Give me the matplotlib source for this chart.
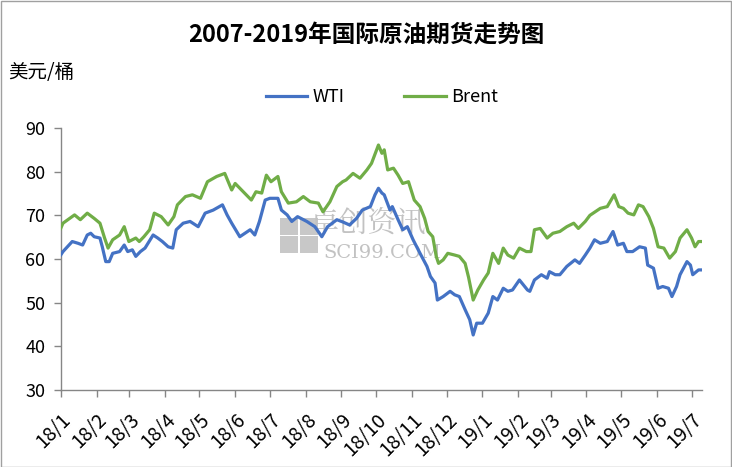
import numpy as np
import pandas as pd
import matplotlib
matplotlib.use("Agg")
import matplotlib.pyplot as plt
import matplotlib.dates as mdates
from matplotlib.ticker import FuncFormatter
from matplotlib.patches import Rectangle

plt.rcParams['font.family'] = ['Noto Sans CJK SC', 'DejaVu Sans']

### Data (USD/bbl)
wti_dates = ["2018-01-01", "2018-01-03", "2018-01-11", "2018-01-16", "2018-01-20", "2018-01-24",
             "2018-01-27", "2018-01-30", "2018-02-04", "2018-02-06", "2018-02-09", "2018-02-12",
             "2018-02-15", "2018-02-21", "2018-02-25", "2018-02-28", "2018-03-04", "2018-03-07",
             "2018-03-11", "2018-03-15", "2018-03-22", "2018-03-26", "2018-03-30", "2018-04-04",
             "2018-04-08", "2018-04-11", "2018-04-17", "2018-04-23", "2018-04-30", "2018-05-06",
             "2018-05-13", "2018-05-21", "2018-05-25", "2018-05-29", "2018-06-05", "2018-06-14",
             "2018-06-18", "2018-06-22", "2018-06-27", "2018-07-01", "2018-07-08", "2018-07-11",
             "2018-07-16", "2018-07-20", "2018-07-25", "2018-08-02", "2018-08-09", "2018-08-15",
             "2018-08-20", "2018-08-28", "2018-09-02", "2018-09-08", "2018-09-14", "2018-09-19",
             "2018-09-26", "2018-09-30", "2018-10-03", "2018-10-06", "2018-10-08", "2018-10-13",
             "2018-10-15", "2018-10-20", "2018-10-24", "2018-10-28", "2018-11-02", "2018-11-08",
             "2018-11-14", "2018-11-17", "2018-11-21", "2018-11-23", "2018-11-28", "2018-12-04",
             "2018-12-08", "2018-12-12", "2018-12-17", "2018-12-21", "2018-12-24", "2018-12-27",
             "2019-01-01", "2019-01-06", "2019-01-10", "2019-01-14", "2019-01-19", "2019-01-23",
             "2019-01-27", "2019-02-02", "2019-02-09", "2019-02-11", "2019-02-15", "2019-02-21",
             "2019-02-26", "2019-02-28", "2019-03-05", "2019-03-09", "2019-03-15", "2019-03-22",
             "2019-03-26", "2019-03-31", "2019-04-04", "2019-04-08", "2019-04-13", "2019-04-19",
             "2019-04-24", "2019-04-28", "2019-05-03", "2019-05-06", "2019-05-11", "2019-05-17",
             "2019-05-22", "2019-05-24", "2019-05-29", "2019-06-02", "2019-06-06", "2019-06-11",
             "2019-06-14", "2019-06-18", "2019-06-21", "2019-06-27", "2019-06-30", "2019-07-02",
             "2019-07-07", "2019-07-10"]
wti_vals = [60.9, 61.7, 64.0, 63.6, 63.2, 65.5,
            65.9, 65.1, 64.8, 62.8, 59.4, 59.4,
            61.3, 61.7, 63.2, 61.7, 62.1, 60.6,
            61.7, 62.5, 65.5, 64.8, 64.0, 62.8,
            62.5, 66.7, 68.2, 68.6, 67.4, 70.5,
            71.2, 72.4, 70.1, 68.2, 65.1, 66.7,
            65.5, 68.6, 73.5, 73.9, 73.9, 71.2,
            70.1, 68.6, 69.7, 68.6, 67.4, 65.1,
            67.4, 69.0, 68.5, 67.8, 69.3, 71.2,
            72.0, 74.7, 76.2, 75.1, 74.7, 71.2,
            72.0, 69.0, 66.7, 67.4, 64.4, 61.3,
            58.3, 56.0, 54.5, 50.6, 51.4, 52.6,
            51.8, 51.4, 48.4, 46.1, 42.6, 45.3,
            45.3, 47.6, 51.4, 50.6, 53.3, 52.6,
            52.9, 55.2, 52.9, 52.6, 55.2, 56.4,
            55.6, 57.1, 56.4, 56.4, 58.3, 59.8,
            59.0, 60.9, 62.5, 64.4, 63.6, 64.0,
            66.3, 63.2, 63.6, 61.7, 61.7, 62.8,
            62.5, 58.6, 57.9, 53.3, 53.7, 53.3,
            51.4, 53.7, 56.4, 59.4, 58.6, 56.4,
            57.5, 57.5]

brent_dates = ["2018-01-01", "2018-01-03", "2018-01-13", "2018-01-18", "2018-01-24", "2018-01-30",
               "2018-02-04", "2018-02-08", "2018-02-11", "2018-02-15", "2018-02-21", "2018-02-25",
               "2018-03-01", "2018-03-07", "2018-03-10", "2018-03-14", "2018-03-19", "2018-03-23",
               "2018-03-29", "2018-04-04", "2018-04-09", "2018-04-12", "2018-04-19", "2018-04-25",
               "2018-05-02", "2018-05-08", "2018-05-16", "2018-05-23", "2018-05-29", "2018-06-01",
               "2018-06-08", "2018-06-15", "2018-06-19", "2018-06-24", "2018-06-28", "2018-07-02",
               "2018-07-08", "2018-07-11", "2018-07-17", "2018-07-24", "2018-07-30", "2018-08-05",
               "2018-08-12", "2018-08-16", "2018-08-22", "2018-08-28", "2018-09-02", "2018-09-05",
               "2018-09-11", "2018-09-17", "2018-09-23", "2018-09-27", "2018-10-03", "2018-10-06",
               "2018-10-08", "2018-10-11", "2018-10-16", "2018-10-20", "2018-10-24", "2018-10-29",
               "2018-11-03", "2018-11-08", "2018-11-12", "2018-11-15", "2018-11-19", "2018-11-22",
               "2018-11-24", "2018-11-28", "2018-12-02", "2018-12-08", "2018-12-12", "2018-12-17",
               "2018-12-20", "2018-12-24", "2018-12-28", "2019-01-02", "2019-01-06", "2019-01-10",
               "2019-01-15", "2019-01-19", "2019-01-23", "2019-01-28", "2019-02-02", "2019-02-08",
               "2019-02-12", "2019-02-15", "2019-02-20", "2019-02-26", "2019-03-03", "2019-03-09",
               "2019-03-15", "2019-03-21", "2019-03-25", "2019-03-31", "2019-04-04", "2019-04-13",
               "2019-04-19", "2019-04-25", "2019-04-29", "2019-05-03", "2019-05-07", "2019-05-12",
               "2019-05-16", "2019-05-20", "2019-05-25", "2019-05-29", "2019-06-02", "2019-06-07",
               "2019-06-12", "2019-06-17", "2019-06-21", "2019-06-27", "2019-07-01", "2019-07-04",
               "2019-07-07", "2019-07-10"]
brent_vals = [67.0, 68.2, 70.1, 69.0, 70.5, 69.3,
              68.2, 64.8, 62.5, 64.4, 65.5, 67.4,
              64.0, 64.8, 64.0, 65.1, 66.7, 70.5,
              69.7, 67.8, 69.7, 72.4, 74.3, 74.7,
              73.9, 77.7, 78.9, 79.6, 75.8, 77.3,
              75.4, 73.5, 75.4, 75.1, 79.2, 77.7,
              78.9, 75.4, 72.8, 73.1, 74.3, 73.1,
              72.8, 70.8, 73.1, 76.6, 77.7, 78.1,
              79.6, 78.5, 80.4, 81.9, 86.1, 84.2,
              85.0, 80.4, 80.8, 79.2, 77.3, 77.7,
              73.5, 72.0, 69.3, 66.3, 65.1, 60.6,
              59.0, 59.8, 61.3, 60.9, 60.6, 59.0,
              55.8, 50.6, 52.9, 55.2, 56.8, 61.3,
              59.0, 62.5, 60.9, 60.2, 62.5, 61.7,
              61.7, 66.7, 67.0, 64.8, 65.9, 66.3,
              67.4, 68.2, 67.0, 68.6, 70.0, 71.6,
              72.0, 74.7, 72.0, 71.6, 70.5, 70.1,
              72.4, 72.0, 69.7, 67.0, 62.8, 62.5,
              60.2, 61.7, 64.8, 66.7, 64.8, 62.8,
              64.0, 64.0]

title = "2007-2019年国际原油期货走势图"
unit = "美元/桶"

wti_x = pd.to_datetime(wti_dates)
brent_x = pd.to_datetime(brent_dates)

fig = plt.figure(figsize=(7.32, 4.67), dpi=100)
ax = fig.add_axes([0.0829, 0.1649, 0.959 - 0.0829, 0.7259 - 0.1649])

# watermark (logo + text)
for cx in (0.342, 0.373):
    for cy in (0.523, 0.592):
        ax.add_patch(Rectangle((cx, cy), 0.028, 0.064, transform=ax.transAxes,
                               color="#c8c8c8", lw=0, zorder=1))
ax.text(0.388, 0.636, "卓创资讯", transform=ax.transAxes, fontsize=21, color="#c2c2c2",
        ha="left", va="center", zorder=1, family=["Noto Serif CJK SC", "Noto Sans CJK SC"])
ax.text(0.410, 0.524, "SCI99.COM", transform=ax.transAxes, fontsize=14, color="#c2c2c2",
        ha="left", va="center", zorder=1, family=["DejaVu Serif"])

ax.plot(wti_x, wti_vals, color="#4472C4", lw=2.3, label="WTI", zorder=3)
ax.plot(brent_x, brent_vals, color="#70AD47", lw=2.3, label="Brent", zorder=3)

ax.set_ylim(30, 90)
ax.set_yticks(np.arange(30, 91, 10))
ax.set_xlim(pd.Timestamp("2018-01-01"), pd.Timestamp("2019-07-10"))
ax.xaxis.set_major_locator(mdates.MonthLocator())
ax.xaxis.set_major_formatter(FuncFormatter(
    lambda v, p: "%d/%d" % (mdates.num2date(v).year % 100, mdates.num2date(v).month)))

for s in ["top", "right"]:
    ax.spines[s].set_visible(False)
for s in ["left", "bottom"]:
    ax.spines[s].set_color("#868686")
    ax.spines[s].set_linewidth(1.0)
ax.tick_params(axis="both", colors="#868686", direction="out", length=5, width=1.0,
               labelcolor="#000000")
ax.tick_params(axis="y", labelsize=13, pad=6)
ax.tick_params(axis="x", labelsize=14, pad=9)
for lab in ax.get_xticklabels():
    lab.set_rotation(45)
    lab.set_ha("right")
    lab.set_va("top")
    lab.set_rotation_mode("anchor")

fig.text(0.5, 0.925, title, ha="center", va="center", fontsize=17, fontweight="bold")
fig.text(0.011, 0.845, unit, ha="left", va="center", fontsize=14)

fig.legend(loc="center", bbox_to_anchor=(0.522, 0.792), ncol=2, frameon=False,
           fontsize=13, handlelength=2.3, columnspacing=3.3, handletextpad=0.3)

# chart border
fig.patches.append(Rectangle((0.001, 0.001), 0.997, 0.997, transform=fig.transFigure,
                             fill=False, edgecolor="#a0a0a0", lw=1.0))

fig.savefig("out.png", dpi=100)
